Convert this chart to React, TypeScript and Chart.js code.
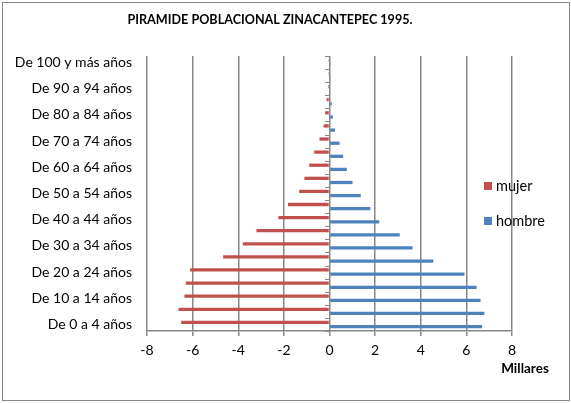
import { useEffect, useRef } from 'react';
import { Chart, registerables } from 'chart.js';

Chart.register(...registerables);

const TITLE = 'PIRAMIDE POBLACIONAL ZINACANTEPEC 1995.';
const X_TITLE = 'Millares';

const categories = [
  'De 0 a 4 años', 'De 5 a 9 años', 'De 10 a 14 años', 'De 15 a 19 años',
  'De 20 a 24 años', 'De 25 a 29 años', 'De 30 a 34 años', 'De 35 a 39 años',
  'De 40 a 44 años', 'De 45 a 49 años', 'De 50 a 54 años', 'De 55 a 59 años',
  'De 60 a 64 años', 'De 65 a 69 años', 'De 70 a 74 años', 'De 75 a 79 años',
  'De 80 a 84 años', 'De 85 a 89 años', 'De 90 a 94 años', 'De 95 a 99 años',
  'De 100 y más años',
];

// miles de personas (negativo = mujer)
const mujer = [
  -6.50, -6.62, -6.36, -6.30, -6.11, -4.66, -3.80, -3.20, -2.24, -1.82,
  -1.33, -1.10, -0.89, -0.67, -0.44, -0.26, -0.19, -0.13, -0.06, -0.02, -0.01,
];
const hombre = [
  6.69, 6.79, 6.62, 6.45, 5.92, 4.55, 3.64, 3.08, 2.18, 1.79,
  1.37, 1.01, 0.76, 0.60, 0.44, 0.24, 0.15, 0.10, 0.03, 0.01, 0.005,
];

const xMin = -8;
const xMax = 8;
const xStep = 2;

const RED = '#C0504D';
const BLUE = '#4F81BD';
const GRID = '#878787';
const FONT = 'Lato';

export default function App() {
  const ref = useRef<HTMLCanvasElement>(null);

  useEffect(() => {
    document.body.style.margin = '0';
    const labels = [...categories].reverse();
    const m = [...mujer].reverse();
    const h = [...hombre].reverse();

    const extras = {
      id: 'extras',
      afterDraw(chart: any) {
        const { ctx, chartArea, scales } = chart;
        const x0 = Math.round(scales.x.getPixelForValue(0));
        const n = labels.length;
        const step = (chartArea.bottom - chartArea.top) / n;
        ctx.save();
        ctx.strokeStyle = GRID;
        ctx.lineWidth = 1;
        for (let i = 0; i <= n; i++) {
          const y = Math.round(chartArea.top + i * step) + 0.5;
          ctx.beginPath();
          ctx.moveTo(x0 - 5, y);
          ctx.lineTo(x0, y);
          ctx.stroke();
        }
        ctx.fillStyle = '#000';
        // chart title
        ctx.font = `bold 12.6px ${FONT}`;
        ctx.textAlign = 'center';
        ctx.textBaseline = 'middle';
        ctx.fillText(TITLE, 270, 20);
        // axis title
        ctx.font = `bold 13.5px ${FONT}`;
        ctx.fillText(X_TITLE, chartArea.right + 13, chartArea.bottom + 38);
        // legend
        const items = [
          { text: 'mujer', color: RED },
          { text: 'hombre', color: BLUE },
        ];
        const lx = chartArea.right - 28;
        const ly0 = 186;
        ctx.font = `14.5px ${FONT}`;
        ctx.textAlign = 'left';
        items.forEach((it, i) => {
          const cy = ly0 + i * 35;
          ctx.fillStyle = it.color;
          ctx.fillRect(lx, cy - 4, 8, 8);
          ctx.fillStyle = '#000';
          ctx.fillText(it.text, lx + 12, cy);
        });
        ctx.restore();
      },
    };

    const chart = new Chart(ref.current!, {
      type: 'bar',
      data: {
        labels,
        datasets: [
          { label: 'mujer', data: m, backgroundColor: RED, categoryPercentage: 0.64, barPercentage: 0.78 },
          { label: 'hombre', data: h, backgroundColor: BLUE, categoryPercentage: 0.64, barPercentage: 0.78 },
        ],
      },
      options: {
        indexAxis: 'y',
        responsive: false,
        animation: false,
        devicePixelRatio: 1,
        layout: { padding: { left: 0, right: 59, top: 56, bottom: 0 } },
        plugins: {
          legend: { display: false },
          tooltip: { enabled: false },
          title: { display: false },
        },
        scales: {
          x: {
            min: xMin,
            max: xMax,
            ticks: { stepSize: xStep, color: '#000', font: { family: FONT, size: 14 }, padding: 6 },
            grid: { color: GRID, lineWidth: 1.5, tickLength: 5, drawTicks: true },
            border: { color: GRID, width: 1.5 },
            afterFit: (s: any) => { s.height = 72; },
          },
          y: {
            grid: { display: false, drawTicks: false },
            border: { display: false },
            ticks: {
              autoSkip: false,
              color: '#000',
              padding: 15,
              font: { family: FONT, size: 14 },
              callback: (_v: any, i: number) => (i % 2 === 0 ? labels[i] : ''),
            },
            afterFit: (s: any) => { s.width = 147; },
          },
        },
      },
      plugins: [extras],
    });
    return () => chart.destroy();
  }, []);

  return (
    <div style={{ position: 'absolute', left: 0, top: 0, width: 571, height: 403, background: '#fff' }}>
      <div style={{ position: 'absolute', left: 2, top: 2, width: 566, height: 397, border: '1px solid #8a8a8a' }} />
      <canvas ref={ref} width={571} height={403} style={{ position: 'absolute', left: 0, top: 0 }} />
    </div>
  );
}
